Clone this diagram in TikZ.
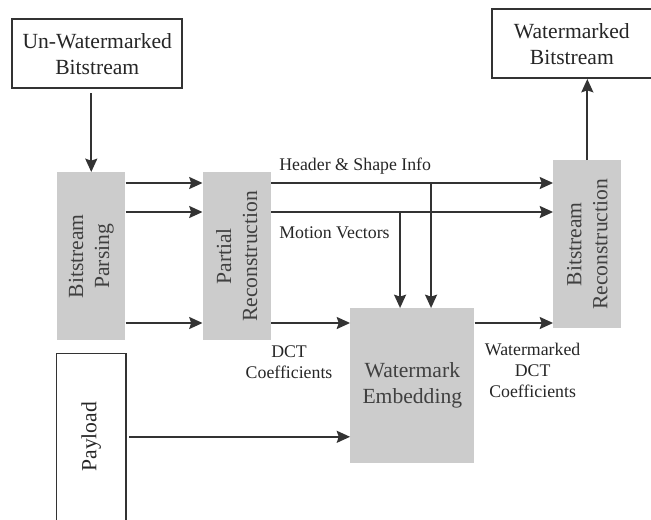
\documentclass[tikz,border=0pt]{standalone}
\usepackage{fontspec}
\setmainfont{Liberation Serif}
\usetikzlibrary{arrows.meta,positioning}

\definecolor{procgray}{HTML}{CCCCCC}
\definecolor{linegray}{HTML}{333333}
\definecolor{boxtext}{HTML}{404040}
\newcommand\boxfont{\fontsize{16.2}{19.5}\selectfont}
\newcommand\notefont{\fontsize{13.35}{15.75}\selectfont}

\begin{document}
\begin{tikzpicture}[
  >=Stealth,
  proc/.style={fill=procgray, minimum width=51pt, minimum height=126pt, inner sep=0pt},
  io/.style={draw=linegray, line width=1.2pt, fill=white, minimum height=51.75pt, align=center, font=\boxfont, text=black!85},
  vtext/.style={rotate=90, align=center, font=\boxfont, text=boxtext},
  arrow/.style={-{Stealth[length=10pt, width=9pt, inset=1.5pt]}, line width=1.4pt, draw=linegray},
  note/.style={font=\notefont, align=center, text=black!85, inner sep=0pt}
]

% ----- PROCESSING BLOCKS -----
\node[proc] (parse) {};
\node[proc, right=57.75pt of parse] (partial) {};
\node[proc, anchor=north west] (brec) at ([xshift=211.5pt, yshift=9pt]partial.north east) {};
\node[proc, minimum width=93pt, minimum height=116.25pt, anchor=north west] (embed) at ([xshift=59.25pt, yshift=-102pt]partial.north east) {};

\node[vtext] (parse-t) at (parse) {Bitstream\\Parsing};
\node[vtext] (partial-t) at (partial) {Partial\\Reconstruction};
\node[vtext] (brec-t) at (brec) {Bitstream\\Reconstruction};
\node[font=\boxfont, text=boxtext, align=center] (embed-t) at (embed) {Watermark\\Embedding};

% ----- PAGE -----
\useasboundingbox ([xshift=-42.75pt, yshift=129pt]parse.north west) rectangle ([xshift=445.5pt, yshift=-260.25pt]parse.north west);

% ----- INPUT / OUTPUT -----
\node[io, minimum width=127.5pt, above=62.25pt of parse, xshift=4.5pt] (unwm) {Un-Watermarked\\Bitstream};
\node[io, minimum width=120pt, above=60.75pt of brec, xshift=-11.6pt] (wm) {Watermarked\\Bitstream};
\node[minimum width=51.75pt, minimum height=124.5pt, inner sep=0pt, below=9.75pt of parse] (payload) {};
\draw[draw=linegray, line width=1.2pt] (payload.south west) -- (payload.north west) -- (payload.north east) -- (payload.south east);
\node[vtext, text=black!85] (payload-t) at (payload) {Payload};

% ----- ROWS AND DROPS -----
\coordinate (r1) at ([yshift=-8.25pt]parse.north east);
\coordinate (r2) at ([yshift=-30pt]parse.north east);
\coordinate (r3) at ([yshift=-113.25pt]parse.north east);
\coordinate (d1) at ([xshift=37.5pt]embed.north west);
\coordinate (d2) at ([xshift=60.75pt]embed.north west);

% ----- CONNECTIONS -----
\draw[arrow, shorten <=3pt] (unwm.south -| parse.north) -- (parse.north);
\draw[arrow] (r1) -- (r1 -| partial.west);
\draw[arrow] (r2) -- (r2 -| partial.west);
\draw[arrow] (r3) -- (r3 -| partial.west);
\draw[arrow] (r1 -| partial.east) -- (r1 -| brec.west);
\draw[arrow] (r2 -| partial.east) -- (r2 -| brec.west);
\draw[arrow] (r3 -| partial.east) -- (r3 -| embed.west);
\draw[arrow] (r3 -| embed.east) -- (r3 -| brec.west);
\draw[arrow] (r2 -| d1) -- (d1);
\draw[arrow] (r1 -| d2) -- (d2);
\draw[arrow, shorten <=2.25pt] (payload.east) -- (payload.east -| embed.west);
\draw[arrow] (brec.north) -- (brec.north |- wm.south);

% ----- LABELS -----
\node[note, anchor=base west] (hdr) at ([xshift=6pt, yshift=1.5pt]partial.north east) {Header \& Shape Info};
\node[note, anchor=base west] (mv) at ([xshift=6pt, yshift=-49.5pt]partial.north east) {Motion Vectors};
\node[note] (dct) at ([xshift=13.5pt, yshift=-16.5pt]partial.south east) {DCT\\Coefficients};
\node[note] (wdct) at ([xshift=43.5pt, yshift=-46.5pt]embed.north east) {Watermarked\\DCT\\Coefficients};

\end{tikzpicture}
\end{document}
